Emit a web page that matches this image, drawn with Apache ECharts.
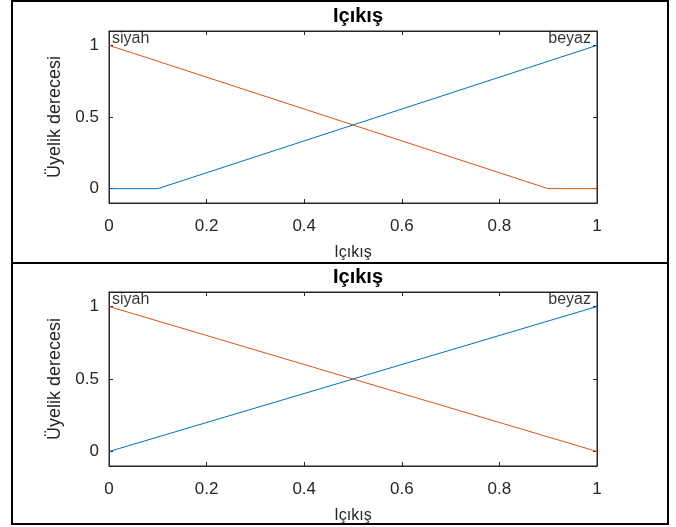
<!DOCTYPE html>
<html>
<head>
<meta charset="utf-8">
<script src="https://cdn.jsdelivr.net/npm/echarts@6/dist/echarts.min.js"></script>
<style>
html,body{margin:0;padding:0;background:#fff;}
#c{width:676px;height:527px;}
</style>
</head>
<body>
<div id="c"></div>
<script>
// ---- data ----
const titles = ['Içıkış', 'Içıkış'];
const xName = 'Içıkış';
const yName = 'Üyelik derecesi';
const xTicks = [0, 0.2, 0.4, 0.6, 0.8, 1];
const yTicks = [0, 0.5, 1];
const mfNames = ['siyah', 'beyaz'];
// top panel
const topSiyah = [[0, 1], [0.9, 0], [1, 0]];
const topBeyaz = [[0, 0], [0.1, 0], [1, 1]];
// bottom panel
const botSiyah = [[0, 1], [1, 0]];
const botBeyaz = [[0, 0], [1, 1]];
// label anchor points
const labelPoints = [[0, 1], [1, 1]];

const BLUE = '#0072BD', ORANGE = '#D95319', AX = '#262626';
const FONT = '"Liberation Sans", Arial, sans-serif';

const grids = [
  {left: 109, top: 31, width: 488, height: 172},
  {left: 109, top: 292, width: 488, height: 174}
];

const xAxis = [], yAxis = [], series = [], title = [];
grids.forEach((g, i) => {
  title.push({
    text: titles[i], left: g.left + g.width / 2, textAlign: 'center',
    top: i === 0 ? 1 : 262,
    textStyle: {fontFamily: FONT, fontSize: 20, fontWeight: 'bold', color: '#000'}
  });
  xAxis.push({
    type: 'value', gridIndex: i, min: 0, max: 1, position: 'bottom',
    splitLine: {show: false},
    axisLine: {show: true, onZero: false, lineStyle: {color: AX, width: 1}},
    axisTick: {show: true, inside: true, length: 4, customValues: xTicks, lineStyle: {color: AX}},
    name: xName, nameLocation: 'middle', nameGap: 42,
    nameTextStyle: {fontFamily: FONT, fontSize: 16, color: AX},
    axisLabel: {customValues: xTicks, margin: 15, fontFamily: FONT, fontSize: 17, color: AX}
  });
  xAxis.push({
    type: 'value', gridIndex: i, min: 0, max: 1, position: 'top',
    splitLine: {show: false},
    axisLine: {show: true, onZero: false, lineStyle: {color: AX, width: 1}},
    axisTick: {show: true, inside: true, length: 4, customValues: xTicks, lineStyle: {color: AX}},
    axisLabel: {show: false}
  });
  yAxis.push({
    type: 'value', gridIndex: i, min: -0.1, max: 1.1, position: 'left',
    splitLine: {show: false},
    axisLine: {show: true, onZero: false, lineStyle: {color: AX, width: 1}},
    axisTick: {show: true, inside: true, length: 4, customValues: yTicks, lineStyle: {color: AX}},
    name: yName, nameLocation: 'middle', nameGap: 38, nameRotate: 90,
    nameTextStyle: {fontFamily: FONT, fontSize: 18, color: AX},
    axisLabel: {customValues: yTicks, margin: 10, fontFamily: FONT, fontSize: 17, color: AX}
  });
  yAxis.push({
    type: 'value', gridIndex: i, min: -0.1, max: 1.1, position: 'right',
    splitLine: {show: false},
    axisLine: {show: true, onZero: false, lineStyle: {color: AX, width: 1}},
    axisTick: {show: true, inside: true, length: 4, customValues: yTicks, lineStyle: {color: AX}},
    axisLabel: {show: false}
  });
});

const panelData = [[topSiyah, topBeyaz], [botSiyah, botBeyaz]];
panelData.forEach((pd, i) => {
  const cols = [ORANGE, BLUE];
  pd.forEach((d, k) => {
    series.push({
      type: 'line', xAxisIndex: i * 2, yAxisIndex: i * 2, data: d,
      showSymbol: false, symbol: 'none', silent: true, animation: false,
      lineStyle: {color: cols[k], width: 1}, z: 3
    });
  });
  // bind secondary axes (no visible marks)
  series.push({
    type: 'line', xAxisIndex: i * 2 + 1, yAxisIndex: i * 2 + 1, data: [],
    showSymbol: false, silent: true, animation: false
  });
  series.push({
    type: 'scatter', xAxisIndex: i * 2, yAxisIndex: i * 2,
    symbolSize: 0, itemStyle: {color: 'transparent'}, silent: true, animation: false,
    data: labelPoints.map((p, k) => ({
      value: p, name: mfNames[k],
      label: {
        show: true, formatter: '{b}',
        position: k === 0 ? 'right' : 'left', distance: k === 0 ? 3 : 6,
        offset: [0, -7], fontFamily: FONT, fontSize: 16, color: '#000'
      }
    })),
    z: 5
  });
});

const chart = echarts.init(document.getElementById('c'), null, {renderer: 'canvas'});
chart.setOption({
  backgroundColor: '#fff',
  animation: false,
  title: title,
  grid: grids.map(g => Object.assign({outerBoundsMode: 'none', containLabel: false,
    show: true, borderColor: AX, borderWidth: 1, backgroundColor: 'transparent'}, g)),
  xAxis: xAxis,
  yAxis: yAxis,
  series: series,
  graphic: [
    {type: 'rect', shape: {x: 12, y: 1, width: 656, height: 523},
     style: {fill: null, stroke: '#000', lineWidth: 2}, silent: true},
    {type: 'line', shape: {x1: 12, y1: 263, x2: 668, y2: 263},
     style: {stroke: '#000', lineWidth: 2}, silent: true}
  ]
});
</script>
</body>
</html>
